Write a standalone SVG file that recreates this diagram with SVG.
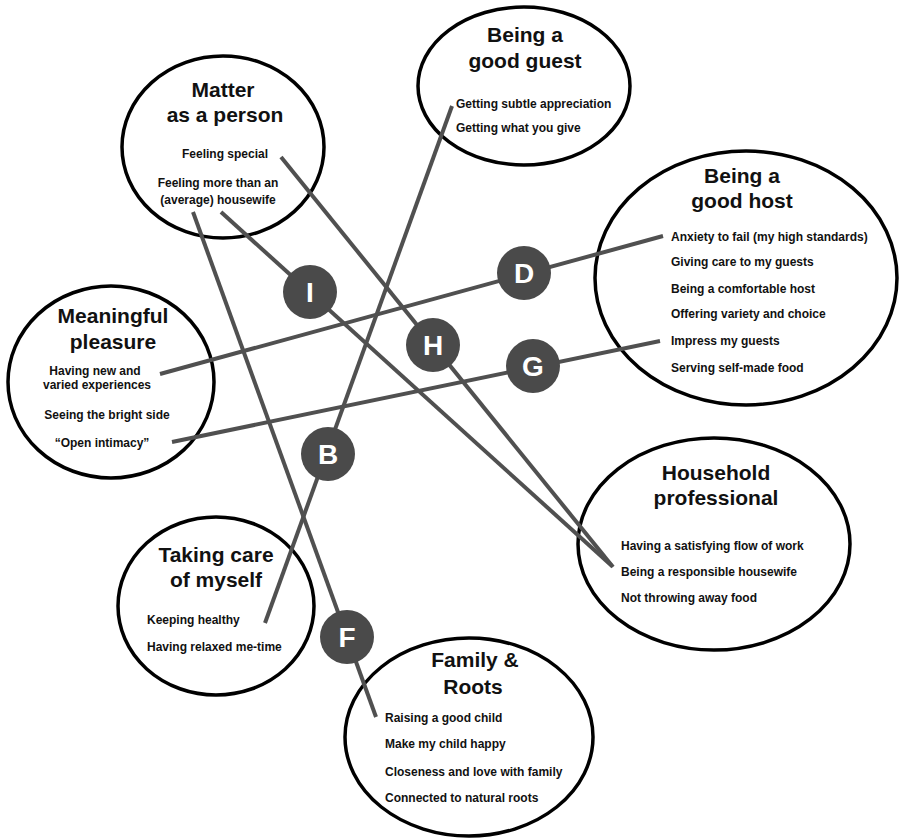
<svg xmlns="http://www.w3.org/2000/svg" width="900" height="839" viewBox="0 0 900 839">
<style>
.ring{fill:#fff;stroke:#000;stroke-width:3.5}
.title{font-family:"Liberation Sans",Arial,sans-serif;font-weight:bold;font-size:21px;fill:#111;text-anchor:middle}
.item{font-family:"Liberation Sans",Arial,sans-serif;font-weight:bold;font-size:12px;fill:#111}
.mid{text-anchor:middle}
.link{stroke:#505050;stroke-width:4;fill:none}
.badge{fill:#4a4a4a}
.blabel{font-family:"Liberation Sans",Arial,sans-serif;font-weight:bold;font-size:28px;fill:#fff;text-anchor:middle}
</style>
<g id="ellipses">
<ellipse class="ring" cx="223" cy="147" rx="101" ry="91"/>
<ellipse class="ring" cx="524" cy="86" rx="106" ry="79"/>
<ellipse class="ring" cx="746" cy="278" rx="151" ry="127"/>
<ellipse class="ring" cx="111" cy="382" rx="103" ry="96"/>
<ellipse class="ring" cx="714" cy="544" rx="136" ry="106"/>
<ellipse class="ring" cx="216" cy="606" rx="98" ry="89"/>
<ellipse class="ring" cx="469" cy="737" rx="124" ry="99"/>
</g>
<g id="connectors">
<line class="link" x1="160" y1="374" x2="663" y2="236"/>
<line class="link" x1="172" y1="442" x2="660" y2="341"/>
<line class="link" x1="265" y1="623" x2="452" y2="106"/>
<line class="link" x1="193" y1="212" x2="376" y2="717"/>
<line class="link" x1="221" y1="212" x2="612" y2="566"/>
<line class="link" x1="281" y1="157" x2="613" y2="567"/>
</g>
<g id="node-matter">
<text class="title" x="223" y="97">Matter</text>
<text class="title" x="225" y="122">as a person</text>
<text class="item mid" x="225" y="158">Feeling special</text>
<text class="item mid" x="218" y="187">Feeling more than an</text>
<text class="item mid" x="218" y="204">(average) housewife</text>
</g>
<g id="node-guest">
<text class="title" x="525" y="42">Being a</text>
<text class="title" x="525" y="68">good guest</text>
<text class="item" x="456" y="108">Getting subtle appreciation</text>
<text class="item" x="456" y="132">Getting what you give</text>
</g>
<g id="node-host">
<text class="title" x="742" y="183">Being a</text>
<text class="title" x="742" y="208">good host</text>
<text class="item" x="671" y="241">Anxiety to fail (my high standards)</text>
<text class="item" x="671" y="266">Giving care to my guests</text>
<text class="item" x="671" y="293">Being a comfortable host</text>
<text class="item" x="671" y="318">Offering variety and choice</text>
<text class="item" x="671" y="345">Impress my guests</text>
<text class="item" x="671" y="372">Serving self-made food</text>
</g>
<g id="node-pleasure">
<text class="title" x="113" y="323">Meaningful</text>
<text class="title" x="113" y="349">pleasure</text>
<text class="item mid" x="95" y="375">Having new and</text>
<text class="item mid" x="97" y="389">varied experiences</text>
<text class="item mid" x="107" y="419">Seeing the bright side</text>
<text class="item mid" x="102" y="447">“Open intimacy”</text>
</g>
<g id="node-household">
<text class="title" x="716" y="480">Household</text>
<text class="title" x="716" y="505">professional</text>
<text class="item" x="621" y="550">Having a satisfying flow of work</text>
<text class="item" x="621" y="576">Being a responsible housewife</text>
<text class="item" x="621" y="602">Not throwing away food</text>
</g>
<g id="node-care">
<text class="title" x="216" y="562">Taking care</text>
<text class="title" x="216" y="587">of myself</text>
<text class="item" x="147" y="624">Keeping healthy</text>
<text class="item" x="147" y="651">Having relaxed me-time</text>
</g>
<g id="node-family">
<text class="title" x="475" y="667">Family &amp;</text>
<text class="title" x="473" y="694">Roots</text>
<text class="item" x="385" y="722">Raising a good child</text>
<text class="item" x="385" y="748">Make my child happy</text>
<text class="item" x="385" y="776">Closeness and love with family</text>
<text class="item" x="385" y="802">Connected to natural roots</text>
</g>
<g id="badge-I"><circle class="badge" cx="310" cy="292" r="27"/><text class="blabel" x="310" y="302">I</text></g>
<g id="badge-D"><circle class="badge" cx="524" cy="273" r="27"/><text class="blabel" x="524" y="283">D</text></g>
<g id="badge-H"><circle class="badge" cx="433" cy="345" r="27"/><text class="blabel" x="433" y="355">H</text></g>
<g id="badge-G"><circle class="badge" cx="533" cy="366" r="27"/><text class="blabel" x="533" y="376">G</text></g>
<g id="badge-B"><circle class="badge" cx="328" cy="454" r="27"/><text class="blabel" x="328" y="464">B</text></g>
<g id="badge-F"><circle class="badge" cx="347" cy="637" r="27"/><text class="blabel" x="347" y="647">F</text></g>
</svg>
